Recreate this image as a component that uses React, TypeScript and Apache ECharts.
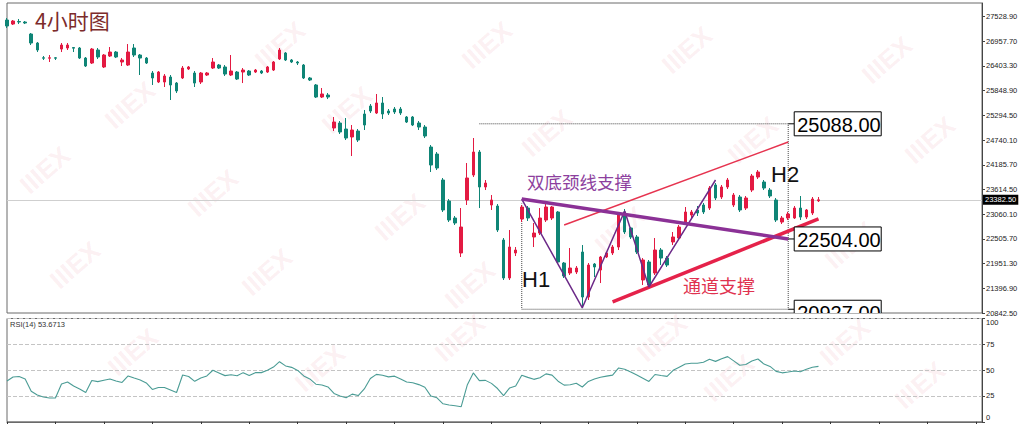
import React, { useEffect, useRef } from "react";
import * as echarts from "echarts";

// ---------- data ----------
const SLOT_COUNT = 162;
const CATEGORIES = Array.from({ length: SLOT_COUNT }, (_, i) => String(i));

// [open, close, low, high]
const CANDLES: number[][] = [
  [27417, 27283, 27238, 27462], [27327, 27395, 27305, 27417], [27384, 27372, 27327, 27440], [27372, 27350, 27327, 27395],
  [27103, 26901, 26856, 27125], [26901, 26744, 26699, 26924], [26570, 26560, 26520, 26609], [26560, 26570, 26475, 26632],
  [26570, 26560, 26520, 26587], [26766, 26856, 26699, 26901], [26789, 26856, 26744, 26901], [26800, 26785, 26699, 26811],
  [26789, 26564, 26542, 26811], [26564, 26385, 26363, 26587], [26452, 26766, 26430, 26789], [26744, 26587, 26542, 26789],
  [26363, 26632, 26340, 26654], [26609, 26699, 26587, 26811], [26699, 26587, 26564, 26722], [26475, 26520, 26385, 26564],
  [26407, 26699, 26385, 26878], [26789, 26632, 26587, 26878], [26632, 26564, 26183, 26654], [26564, 26452, 26430, 26587],
  [26228, 26116, 25959, 26273], [26026, 26250, 26003, 26273], [26026, 26161, 25914, 26205], [26138, 25959, 25622, 26183],
  [26003, 25824, 25779, 26026], [26116, 26340, 26093, 26385], [26318, 26363, 26295, 26385], [26228, 26003, 25914, 26273],
  [26026, 26228, 25981, 26250], [26183, 26228, 26161, 26250], [26340, 26475, 26318, 26564], [26407, 26340, 26318, 26430],
  [26363, 26205, 26161, 26407], [26183, 26273, 26161, 26632], [26250, 26093, 26071, 26273], [26250, 26295, 26003, 26340],
  [26273, 26183, 26161, 26295], [26250, 26295, 26228, 26318], [26273, 26228, 26205, 26295], [26250, 26363, 26228, 26385],
  [26295, 26475, 26273, 26497], [26542, 26744, 26520, 26789], [26677, 26520, 26497, 26699], [26520, 26475, 26452, 26542],
  [26475, 26452, 26407, 26497], [26407, 26116, 26093, 26430], [26116, 26071, 26048, 26138], [25959, 25689, 25667, 25981],
  [25689, 25757, 25667, 25891], [25734, 25689, 25644, 25779], [24994, 25128, 24926, 25241], [25106, 24904, 24859, 25151],
  [24971, 24769, 24724, 25218], [24792, 24949, 24365, 25061], [24926, 24724, 24680, 24971], [25308, 25061, 24949, 25398],
  [25487, 25375, 25330, 25532], [25330, 25555, 25308, 25757], [25555, 25308, 25196, 25689], [25375, 25330, 25285, 25420],
  [25420, 25353, 25308, 25465], [25420, 25330, 25285, 25465], [25241, 25128, 25106, 25263], [25241, 25061, 25038, 25263],
  [25106, 25016, 24949, 25151], [25016, 24814, 24769, 25061], [24567, 24163, 24006, 24612], [24410, 24096, 24051, 24455],
  [23827, 23154, 23109, 23872], [23356, 22929, 22884, 23400], [22974, 22862, 22817, 23019], [22189, 22772, 22099, 23198],
  [23378, 23872, 23266, 24208], [23939, 24455, 23894, 24769], [24455, 23670, 23198, 24500], [23670, 23759, 23602, 23827],
  [23266, 23378, 23154, 23490], [23243, 22705, 22660, 23288], [22480, 21628, 21583, 22525], [21628, 22323, 21583, 22705],
  [22189, 22256, 22121, 22323], [22952, 23221, 22884, 23266], [23198, 22974, 22907, 23243], [22548, 22637, 22323, 22862],
  [22637, 22974, 22593, 23198], [22929, 23221, 22884, 23311], [22974, 23221, 22929, 23243], [23109, 21987, 21964, 23131],
  [21964, 21673, 21628, 21987], [21740, 21852, 21695, 22301], [21762, 21852, 21717, 21897], [22211, 21201, 20950, 22368],
  [21201, 21919, 21134, 21964], [21942, 21875, 21650, 21964], [21807, 22099, 21515, 22121], [22099, 22189, 22076, 22211],
  [22189, 22323, 22144, 22368], [22323, 23041, 22256, 23109], [23109, 22660, 22615, 23176], [22750, 22548, 22503, 22772],
  [22548, 22211, 22166, 22593], [21583, 22032, 21471, 22076], [21987, 21471, 21426, 22032], [21740, 22256, 21695, 22525],
  [22256, 22076, 21919, 22301], [22076, 21919, 21875, 22121], [22436, 22548, 22368, 22660], [22525, 22772, 22480, 22817],
  [22884, 23109, 22840, 23221], [23041, 23109, 22974, 23154], [23154, 23086, 23019, 23243], [23266, 23109, 23064, 23311],
  [23198, 23647, 23154, 23692], [23715, 23423, 23378, 23759], [23445, 23670, 23400, 23715], [23670, 23827, 23625, 23872],
  [23266, 23490, 23221, 23535], [23445, 23154, 23109, 23490], [23198, 23423, 23154, 23468], [23602, 23917, 23557, 23962],
  [23894, 24006, 23849, 24051], [23782, 23647, 23602, 23827], [23602, 23468, 23423, 23647], [23378, 22929, 22884, 23423],
  [22884, 22974, 22840, 23019], [22974, 23064, 22929, 23109], [22974, 23198, 22952, 23243], [23198, 22996, 22929, 23468],
  [22996, 23154, 22952, 23176], [23086, 23400, 23041, 23445], [23360, 23382.5, 23333, 23445],
];

const RSI = [
  39.5, 43.4, 43.9, 41.5, 29.6, 26.0, 24.0, 23.1, 23.1, 36.6,
  38.6, 34.7, 31.8, 28.4, 40.0, 38.9, 40.2, 41.5, 39.5, 38.1,
  44.4, 42.4, 40.5, 37.6, 31.3, 33.2, 33.2, 30.8, 28.4, 45.3,
  43.9, 39.2, 42.4, 44.4, 49.9, 47.3, 44.7, 45.5, 44.5, 47.6,
  44.8, 47.6, 47.6, 49.9, 53.0, 58.2, 54.1, 52.7, 49.7, 44.4,
  41.5, 36.4, 35.7, 33.7, 27.4, 25.0, 23.3, 26.8, 25.4, 31.8,
  41.9, 45.9, 45.1, 43.5, 44.2, 41.5, 38.6, 37.8, 36.0, 33.4,
  24.9, 23.2, 17.4, 16.3, 15.5, 14.6, 35.6, 47.3, 39.9, 40.1,
  37.2, 32.2, 25.3, 32.8, 34.7, 45.1, 43.0, 41.1, 42.6, 46.4,
  45.2, 39.3, 35.5, 35.9, 37.4, 33.7, 39.1, 41.5, 43.2, 44.2,
  45.2, 52.1, 50.8, 48.2, 45.3, 42.2, 39.1, 45.8, 44.8, 44.0,
  49.8, 52.9, 56.0, 56.7, 56.7, 57.7, 60.5, 58.5, 61.0, 63.1,
  59.0, 54.8, 55.5, 58.8, 60.8, 55.9, 53.6, 48.8, 47.4, 48.2,
  49.2, 48.5, 50.8, 52.8, 53.67,
];

const PRICE_TICKS = [
  "20842.50", "21396.90", "21951.30", "22505.70", "23060.10", "23614.50", "24185.70",
  "24740.10", "25294.50", "25848.90", "26403.30", "26957.70", "27528.90",
];
const PRICE_MIN = 20842.5;
const PRICE_MAX = 27799;
const PRICE_STEP = 554.4;
const LAST_PRICE = 23382.5;
const LAST_PRICE_LABEL = "23382.50";
const RSI_LABEL = "RSI(14) 53.6713";

const NECKLINE = [[85, 23400], [129, 22504]];
const W_PATTERN = [[85, 23400], [95, 20960], [102, 23131], [106, 21426], [117, 23827]];
const CHANNEL_UPPER = [[92, 22817], [129, 24680]];
const CHANNEL_LOWER = [[100, 21090], [134, 22952]];
const BOX_OUTLINE = [[78, 25088], [129, 25088], [129, 20927], [85, 20927], [85, 23300]];
const LEVELS = [[129, 25088], [129, 22504], [129, 20927]];
const LEVEL_LABELS = ["25088.00", "22504.00", "20927.00"];
const LEVEL_SHIFT = [0, 0, 3];

const WATERMARKS = [
  [280, 45], [487, 45], [687, 50], [887, 60], [130, 105], [347, 110], [547, 133], [753, 140],
  [930, 140], [45, 170], [213, 193], [400, 217], [620, 230], [850, 245], [75, 265], [267, 272],
  [470, 285], [133, 352], [320, 368], [460, 338], [662, 338], [845, 342], [729, 378], [920, 385],
];

const RED = "#e31a42";
const TEAL = "#0f8576";

export default function App() {
  const ref = useRef<HTMLDivElement>(null);

  useEffect(() => {
    if (!ref.current) return;
    const chart = echarts.init(ref.current, undefined, { renderer: "svg" });

    const lineSeries = (data: number[][], color: string, width: number, type = "solid", z = 4) => ({
      type: "line",
      xAxisIndex: 0,
      yAxisIndex: 0,
      data,
      symbol: "none",
      silent: true,
      z,
      lineStyle: { color, width, type },
    });

    const option: any = {
      animation: false,
      backgroundColor: "#ffffff",
      grid: [
        { left: 7, top: 3, width: 975, height: 310, show: true, borderColor: "#6a6a6a", borderWidth: 1, backgroundColor: "transparent" },
        { left: 7, top: 318.5, width: 975, height: 103.3, show: true, borderColor: "#6a6a6a", borderWidth: 1, backgroundColor: "transparent" },
      ],
      xAxis: [
        {
          type: "category", gridIndex: 0, data: CATEGORIES, boundaryGap: false,
          axisLine: { show: false }, axisTick: { show: false }, axisLabel: { show: false }, splitLine: { show: false },
        },
        {
          type: "category", gridIndex: 1, data: CATEGORIES, boundaryGap: false,
          axisLine: { show: true, lineStyle: { color: "#6a6a6a" } },
          axisTick: { show: true, interval: 7, length: 3, lineStyle: { color: "#333" } },
          axisLabel: { show: false }, splitLine: { show: false },
        },
      ],
      yAxis: [
        {
          type: "value", gridIndex: 0, position: "right", min: PRICE_MIN, max: PRICE_MAX, interval: PRICE_STEP,
          axisLine: { show: true, lineStyle: { color: "#444" } },
          axisTick: { show: true, length: 3, lineStyle: { color: "#444" } },
          splitLine: { show: false },
          axisLabel: {
            fontSize: 7.5, color: "#222", margin: 4, fontFamily: "Liberation Sans", showMaxLabel: false,
            formatter: (v: number) => PRICE_TICKS[Math.round((v - PRICE_MIN) / PRICE_STEP)] ?? "",
          },
        },
        {
          type: "value", gridIndex: 1, position: "right", min: 0, max: 100, interval: 25,
          axisLine: { show: true, lineStyle: { color: "#444" } },
          axisTick: { show: true, length: 3, lineStyle: { color: "#444" } },
          splitLine: { show: true, lineStyle: { color: "#c4c4c4", type: "dashed", width: 1 } },
          axisLabel: {
            fontSize: 7.5, color: "#222", margin: 4, fontFamily: "Liberation Sans",
            verticalAlignMinLabel: "bottom", verticalAlignMaxLabel: "top",
          },
        },
      ],
      series: [
        {
          type: "candlestick",
          xAxisIndex: 0,
          yAxisIndex: 0,
          data: CANDLES,
          barWidth: 3,
          z: 3,
          itemStyle: { color: RED, color0: TEAL, borderColor: RED, borderColor0: TEAL, borderWidth: 1 },
          markLine: {
            silent: true,
            symbol: ["none", "none"],
            z: 1,
            data: [{ yAxis: LAST_PRICE }],
            lineStyle: { color: "#cfcfcf", width: 1, type: "solid" },
            label: {
              show: true, position: "end", formatter: LAST_PRICE_LABEL, distance: 1,
              backgroundColor: "#000", color: "#fff", fontSize: 7.5, fontFamily: "Liberation Sans", padding: [1, 2],
            },
          },
        },
        lineSeries(BOX_OUTLINE, "#444", 1, "dotted", 3),
        lineSeries(CHANNEL_UPPER, "#e6334f", 1.5),
        lineSeries(CHANNEL_LOWER, "#e5224a", 3.5),
        lineSeries(W_PATTERN, "#6c2a88", 1.5),
        lineSeries(NECKLINE, "#8b3196", 3.5, "solid", 5),
        {
          type: "custom",
          xAxisIndex: 0,
          yAxisIndex: 0,
          data: LEVELS,
          clip: true,
          silent: true,
          z: 6,
          renderItem: (params: any, api: any) => {
            const idx = params.dataIndex;
            const pt = api.coord([api.value(0), api.value(1)]);
            const x0 = pt[0];
            const yc = pt[1] + LEVEL_SHIFT[idx];
            return {
              type: "group",
              children: [
                { type: "line", shape: { x1: x0, y1: pt[1], x2: x0 + 6, y2: pt[1] }, style: { stroke: "#000", lineWidth: 1 } },
                { type: "rect", shape: { x: x0 + 6, y: yc - 12, width: 87, height: 24 }, style: { fill: "#fff", stroke: "#000", lineWidth: 1 } },
                {
                  type: "text", x: x0 + 9, y: yc + 1,
                  style: { text: LEVEL_LABELS[idx], fill: "#000", font: '20px "Liberation Sans"', align: "left", verticalAlign: "middle" },
                },
              ],
            };
          },
        },
        {
          type: "line",
          xAxisIndex: 1,
          yAxisIndex: 1,
          data: RSI,
          symbol: "none",
          silent: true,
          lineStyle: { color: "#4b9c95", width: 1.1 },
        },
      ],
      graphic: [
        ...WATERMARKS.map(([x, y]) => ({
          type: "text", x, y, rotation: 0.72, silent: true, z: 0,
          style: { text: "IIIEX", fill: "rgba(232,110,130,0.11)", font: 'bold 26px "Liberation Sans"', align: "center", verticalAlign: "middle" },
        })),
        {
          type: "text", left: 35, top: 9, z: 20,
          style: { text: "4小时图", fill: "#7c2b2b", font: '21px "Noto Sans CJK SC"' },
        },
        {
          type: "text", left: 527, top: 173, z: 20,
          style: { text: "双底颈线支撑", fill: "#8d3f9e", font: '17.5px "Noto Sans CJK SC"' },
        },
        {
          type: "text", left: 683, top: 276, z: 20,
          style: { text: "通道支撑", fill: "#e0324f", font: '18px "Noto Sans CJK SC"' },
        },
        {
          type: "text", left: 522, top: 268, z: 20,
          style: { text: "H1", fill: "#111", font: '22px "Liberation Sans"' },
        },
        {
          type: "text", left: 771, top: 163, z: 20,
          style: { text: "H2", fill: "#111", font: '22px "Liberation Sans"' },
        },
        {
          type: "text", left: 10, top: 320, z: 20,
          style: { text: RSI_LABEL, fill: "#333", font: '7.5px "Liberation Sans"' },
        },
      ],
    };

    chart.setOption(option);
    return () => chart.dispose();
  }, []);

  return (
    <div
      ref={ref}
      style={{ position: "fixed", left: 0, top: 0, width: 1024, height: 424, background: "#fff" }}
    />
  );
}
